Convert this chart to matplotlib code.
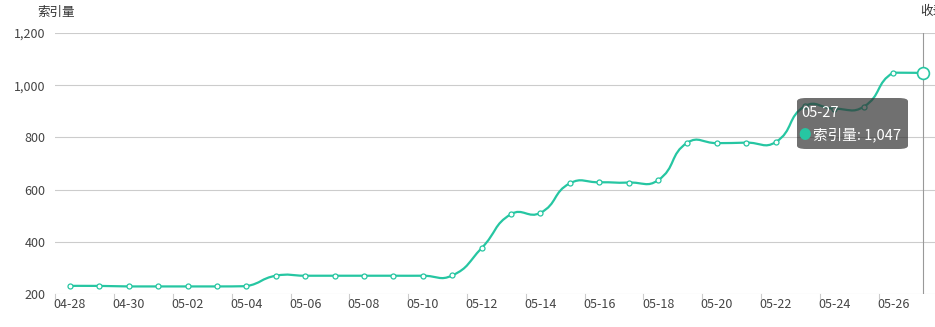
import numpy as np
import matplotlib
matplotlib.use('Agg')
from matplotlib import pyplot as plt
from matplotlib.path import Path
from matplotlib.patches import PathPatch, FancyBboxPatch

plt.rcParams['font.family'] = ['Noto Sans CJK SC', 'DejaVu Sans']

dates = ['04-28', '04-29', '04-30', '05-01', '05-02', '05-03', '05-04',
         '05-05', '05-06', '05-07', '05-08', '05-09', '05-10', '05-11',
         '05-12', '05-13', '05-14', '05-15', '05-16', '05-17', '05-18',
         '05-19', '05-20', '05-21', '05-22', '05-23', '05-24', '05-25',
         '05-26', '05-27']
values = [231, 231, 229, 229, 229, 229, 230,
          270, 270, 270, 270, 270, 270, 271,
          376, 506, 511, 624, 628, 627, 636,
          780, 778, 780, 782, 920, 910, 918,
          1048, 1047]
y_ticks = [200, 400, 600, 800, 1000, 1200]
series_name = '索引量'

line_color = '#26c6a2'
W, H = 935, 327

fig = plt.figure(figsize=(W / 100, H / 100), dpi=100)
left, right, top, bottom = 55.3, 937.4, 33, 294
ax = fig.add_axes([left / W, (H - bottom) / H, (right - left) / W, (bottom - top) / H])
ax.set_xlim(-0.5, len(dates) - 0.5)
ax.set_ylim(y_ticks[0], y_ticks[-1])

# pixel scales, used for echarts-like smoothing
sx = (right - left) / len(dates)
sy = (bottom - top) / (y_ticks[-1] - y_ticks[0])


def smooth_path(xs, ys, smooth=0.5):
    px = np.asarray(xs, float) * sx
    py = np.asarray(ys, float) * sy
    lo = np.array([px.min(), py.min()])
    hi = np.array([px.max(), py.max()])
    clamp = lambda p: tuple(np.clip(p, lo, hi))
    verts = [(px[0], py[0])]
    codes = [Path.MOVETO]
    cp0 = (px[0], py[0])
    n = len(px)
    for k in range(1, n):
        x, y = px[k], py[k]
        if k == n - 1:
            ncp = (x, y)
            vx = vy = 0.0
            r = 0.5
        else:
            vx = px[k + 1] - px[k - 1]
            vy = py[k + 1] - py[k - 1]
            l0 = np.hypot(x - px[k - 1], y - py[k - 1])
            l1 = np.hypot(px[k + 1] - x, py[k + 1] - y)
            r = l1 / (l0 + l1)
            ncp = (x - vx * smooth * (1 - r), y - vy * smooth * (1 - r))
        verts += [clamp(cp0), clamp(ncp), (x, y)]
        codes += [Path.CURVE4] * 3
        cp0 = (x + vx * smooth * r, y + vy * smooth * r)
    verts = [(a / sx, b / sy) for a, b in verts]
    return Path(verts, codes)


idx = np.arange(len(dates))

for yt in y_ticks:
    ax.axhline(yt, color='#cccccc', lw=0.8, zorder=0)

# axis pointer
ax.axvline(idx[-1], color='#999999', lw=0.8, zorder=1)

ax.add_patch(PathPatch(smooth_path(idx, values), facecolor='none',
                       edgecolor=line_color, lw=1.6, zorder=2, capstyle='round'))
ax.plot(idx[:-1], values[:-1], 'o', ms=3.6, mfc='white', mec=line_color, mew=0.9, zorder=3)
ax.plot(idx[-1:], values[-1:], 'o', ms=8.5, mfc='white', mec=line_color, mew=1.2, zorder=3)

for s in ax.spines.values():
    s.set_visible(False)

ax.set_yticks(y_ticks)
ax.set_yticklabels([f'{v:,}' for v in y_ticks])
ax.tick_params(axis='y', length=0, pad=7, labelsize=9, labelcolor='#444444')

ax.set_xticks(idx[::2])
ax.set_xticklabels(dates[::2])
ax.tick_params(axis='x', length=0, pad=3, labelsize=9, labelcolor='#444444')
for t in np.arange(-0.5, len(dates), 2):
    ax.plot([t, t], [0, -0.018], transform=ax.get_xaxis_transform(),
            color='#cccccc', lw=0.8, clip_on=False)

fig.text(56 / W, 1 - 12 / H, series_name, ha='center', va='center',
         fontsize=9, color='#333333')
fig.text(920 / W, 1 - 12 / H, '收录量', ha='left', va='center',
         fontsize=9, color='#333333')

# tooltip
tx0, ty0, tw, th = 797 / W, 1 - 149 / H, 111 / W, 51 / H
box = FancyBboxPatch((tx0, ty0), tw, th, boxstyle='round,pad=0,rounding_size=0.01',
                     transform=fig.transFigure, facecolor=(0.2, 0.2, 0.2, 0.7),
                     edgecolor='none', zorder=5)
fig.patches.append(box)
fig.text(801 / W, 1 - 113 / H, dates[-1], ha='left', va='center',
         fontsize=10.5, color='white', zorder=6)
fig.text(805 / W, 1 - 135 / H, '●', ha='center', va='center',
         fontsize=9, color=line_color, zorder=6)
fig.text(813 / W, 1 - 135 / H, f'{series_name}: {values[-1]:,}', ha='left', va='center',
         fontsize=10.5, color='white', zorder=6)

fig.savefig('out.png', dpi=100)
